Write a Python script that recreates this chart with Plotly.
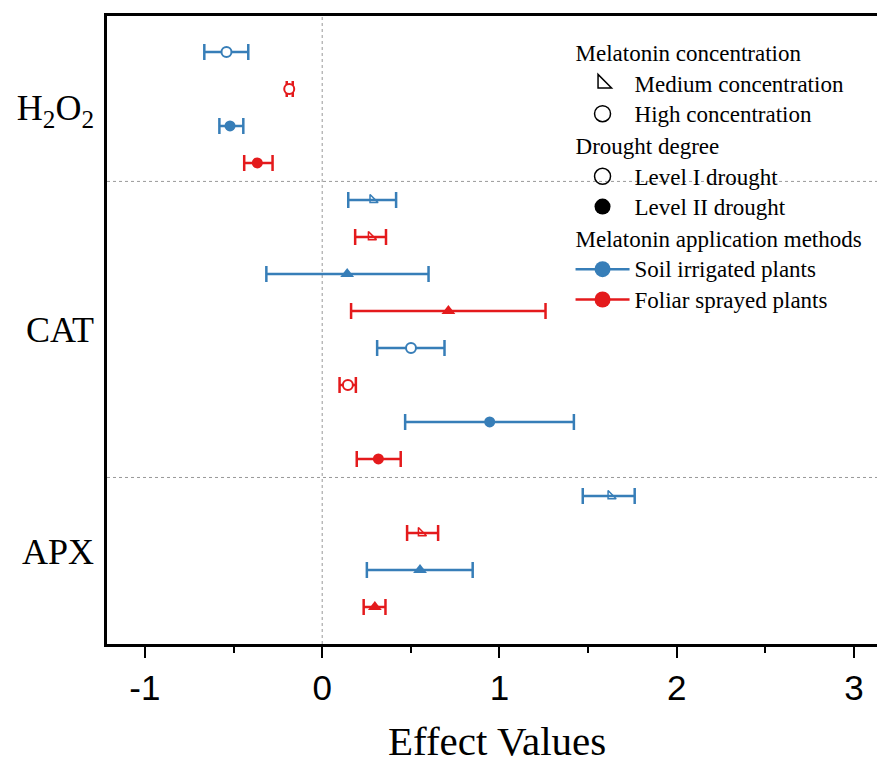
import plotly.graph_objects as go

# ---- data ----
row_index = list(range(16))
effect = [-0.54, -0.186, -0.52, -0.366,
          0.285, 0.276, 0.141, 0.712, 0.501, 0.145, 0.945, 0.317,
          1.628, 0.558, 0.552, 0.297]
ci_low = [-0.665, -0.200, -0.580, -0.440,
          0.147, 0.186, -0.315, 0.163, 0.310, 0.098, 0.468, 0.195,
          1.470, 0.479, 0.252, 0.234]
ci_high = [-0.417, -0.166, -0.445, -0.280,
           0.417, 0.360, 0.600, 1.260, 0.690, 0.190, 1.420, 0.443,
           1.763, 0.654, 0.849, 0.357]
method = ["Soil", "Foliar"] * 8
marker_kind = ["high_I", "high_I", "high_II", "high_II",
               "med_I", "med_I", "med_II", "med_II",
               "high_I", "high_I", "high_II", "high_II",
               "med_I", "med_I", "med_II", "med_II"]
indicator_labels = ["H<sub>2</sub>O<sub>2</sub>", "CAT", "APX"]
indicator_centers = [1.5, 7.5, 13.5]
separators = [3.5, 11.5]
x_ticks = [-1, 0, 1, 2, 3]
x_title = "Effect Values"

colors = {"Soil": "#377eb8", "Foliar": "#e41a1c"}
SERIF = "Liberation Serif"
SANS = "Liberation Sans"


def big(t):
    return '<span style="font-size:23px">' + t + '</span>'


fig = go.Figure()

for i in row_index:
    c = colors[method[i]]
    k = marker_kind[i]
    if k == "high_I":
        mk = dict(symbol="circle", size=10, color="white", line=dict(color=c, width=2))
    elif k == "high_II":
        mk = dict(symbol="circle", size=11, color=c, line=dict(width=0))
    elif k == "med_I":
        mk = dict(symbol="triangle-sw-open", size=9, color=c, line=dict(color=c, width=1.5))
    else:
        mk = dict(symbol="triangle-up", size=12, color=c, line=dict(width=0))
    fig.add_trace(go.Scatter(
        x=[effect[i]], y=[row_index[i]], mode="markers", marker=mk,
        error_x=dict(type="data", symmetric=False,
                     array=[ci_high[i] - effect[i]],
                     arrayminus=[effect[i] - ci_low[i]],
                     color=c, thickness=2.5, width=8),
        showlegend=False, hoverinfo="skip"))

# ---- legend entries ----
leg = [
    ("g1", "Melatonin concentration", "Medium concentration", "markers",
     dict(symbol="triangle-sw-open", size=15, color="black", line=dict(color="black", width=1.5)), None),
    ("g1", "Melatonin concentration", "High concentration", "markers",
     dict(symbol="circle-open", size=18, color="black", line=dict(color="black", width=1.5)), None),
    ("g2", "Drought degree", "Level I drought", "markers",
     dict(symbol="circle-open", size=18, color="black", line=dict(color="black", width=1.5)), None),
    ("g2", "Drought degree", "Level II drought", "markers",
     dict(symbol="circle", size=18, color="black"), None),
    ("g3", "Melatonin application methods", "Soil irrigated plants", "lines+markers",
     dict(symbol="circle", size=17, color=colors["Soil"]), colors["Soil"]),
    ("g3", "Melatonin application methods", "Foliar sprayed plants", "lines+markers",
     dict(symbol="circle", size=17, color=colors["Foliar"]), colors["Foliar"]),
]
for grp, gtitle, name, mode, mk, lc in leg:
    fig.add_trace(go.Scatter(
        x=[None], y=[None], mode=mode, name=big(name), marker=mk,
        line=dict(color=lc if lc else "black", width=2.5),
        legendgroup=grp,
        legendgrouptitle=dict(text=big(gtitle), font=dict(family=SERIF, size=21, color="black"))))

# ---- reference lines ----
fig.add_shape(type="line", xref="x", yref="paper", x0=0, x1=0, y0=0, y1=1,
              line=dict(color="#999999", width=1, dash="dot"), layer="below")
for s in separators:
    fig.add_shape(type="line", xref="paper", yref="y", x0=0, x1=1, y0=s, y1=s,
                  line=dict(color="#999999", width=1, dash="dot"), layer="below")

fig.add_annotation(text=x_title, xref="paper", yref="paper", x=0.506, y=-0.154,
                   xanchor="center", yanchor="middle", showarrow=False,
                   font=dict(family=SERIF, size=41, color="black"))

fig.update_layout(
    width=877, height=758,
    margin=dict(l=107, r=0, t=16, b=114),
    paper_bgcolor="white", plot_bgcolor="white",
    legend=dict(x=0.602, y=0.973, xanchor="left", yanchor="top",
                font=dict(family=SERIF, size=21, color="black"),
                bgcolor="rgba(0,0,0,0)", itemwidth=54, tracegroupgap=2,
                groupclick="toggleitem"),
    xaxis=dict(range=[-1.214, 3.13], tickvals=x_ticks,
               ticktext=[str(v) for v in x_ticks], automargin=False,
               ticks="outside", ticklen=11, tickwidth=2, tickcolor="black",
               minor=dict(tickvals=[-0.5, 0.5, 1.5, 2.5], ticks="outside",
                          ticklen=6, tickwidth=2, tickcolor="black"),
               showgrid=False, zeroline=False,
               showline=True, linewidth=2.5, linecolor="black", mirror=True,
               tickfont=dict(family=SANS, size=35, color="black")),
    yaxis=dict(range=[16.0, -0.97], tickvals=indicator_centers, ticktext=indicator_labels,
               ticks="", showgrid=False, zeroline=False, automargin=False,
               showline=True, linewidth=2.5, linecolor="black",
               tickfont=dict(family=SERIF, size=36, color="black"),
               ticklabelstandoff=3),
)

fig.write_html("out.html")
